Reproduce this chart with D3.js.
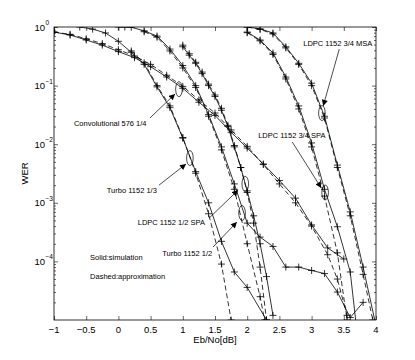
<!DOCTYPE html>
<html>
<head>
<meta charset="utf-8">
<script src="https://cdn.jsdelivr.net/npm/d3@7"></script>
<style>
  body { margin: 0; background: #fff; }
  text { font-family: "Liberation Sans", Arial, Helvetica, sans-serif; fill: #000; }
</style>
</head>
<body>
<div id="chart"></div>
<script>
// tick values / labels
var xTicks = [-1, -0.5, 0, 0.5, 1, 1.5, 2, 2.5, 3, 3.5, 4];
var xTickLabels = ["\u22121", "\u22120.5", "0", "0.5", "1", "1.5", "2", "2.5", "3", "3.5", "4"];
var yTicks = [1, 1e-1, 1e-2, 1e-3, 1e-4];
var yTickExp = ["0", "\u22121", "\u22122", "\u22123", "\u22124"];

// Convolutional 576 1/4
var convSimX = [-1, -0.75, -0.5, -0.25, 0, 0.25, 0.5, 0.75, 1, 1.25, 1.5, 1.75, 2, 2.25, 2.5, 2.75, 3, 3.25, 3.5];
var convSimY = [0.82, 0.73, 0.6, 0.49, 0.38, 0.3, 0.21, 0.14, 0.09, 0.052, 0.031, 0.016, 8.6e-3, 4.6e-3, 2.4e-3, 1.2e-3, 4.2e-4, 1.7e-4, 1.1e-4];
var convAppX = [-1, -0.75, -0.5, -0.25, 0, 0.25, 0.5, 0.75, 1, 1.25, 1.5, 1.75, 2, 2.25, 2.5, 2.75, 3, 3.25, 3.4, 3.55];
var convAppY = [0.82, 0.75, 0.63, 0.52, 0.41, 0.32, 0.23, 0.15, 0.097, 0.057, 0.034, 0.0175, 9.2e-3, 4.5e-3, 2.1e-3, 1e-3, 4e-4, 1.3e-4, 5e-5, 1.2e-5];

// Turbo 1152 1/3
var t13SimX = [-0.6, -0.4, -0.2, 0, 0.2, 0.4, 0.6, 0.8, 1, 1.2, 1.4, 1.6, 1.8, 2, 2.3];
var t13SimY = [1.0, 0.92, 0.79, 0.57, 0.37, 0.23, 0.095, 0.042, 0.0127, 3.4e-3, 1e-3, 2.2e-4, 6.6e-5, 3.6e-5, 1e-5];
var t13AppX = [0.2, 0.4, 0.6, 0.8, 1, 1.2, 1.4, 1.6, 1.75];
var t13AppY = [0.39, 0.245, 0.1, 0.045, 0.013, 3.2e-3, 6.5e-4, 9e-5, 1e-5];

// Turbo 1152 1/2
var t12SimX = [0, 0.1, 0.2, 0.4, 0.6, 0.8, 1, 1.2, 1.4, 1.6, 1.8, 2, 2.2, 2.4, 2.6, 2.8, 3, 3.2, 3.4, 3.6, 3.8];
var t12SimY = [1.0, 1.0, 0.99, 0.86, 0.7, 0.42, 0.22, 0.1, 0.032, 9e-3, 2.1e-3, 4.5e-4, 2.6e-4, 1.8e-4, 8e-5, 8e-5, 7e-5, 6.2e-5, 3e-5, 1.1e-5, 2e-5];
var t12AppX = [0.4, 0.6, 0.8, 1, 1.2, 1.4, 1.6, 1.8, 2, 2.2, 2.27];
var t12AppY = [0.83, 0.67, 0.39, 0.2, 0.093, 0.03, 8e-3, 1.7e-3, 2e-4, 2.5e-5, 1e-5];

// LDPC 1152 1/2 SPA
var l12SimX = [1, 1.1, 1.2, 1.3, 1.4, 1.5, 1.6, 1.7, 1.8, 1.9, 2, 2.1, 2.2, 2.3, 2.4];
var l12SimY = [0.46, 0.33, 0.24, 0.16, 0.1, 0.065, 0.038, 0.02, 9e-3, 4e-3, 1.6e-3, 6e-4, 2e-4, 5.5e-5, 1.2e-5];
var l12AppX = [1, 1.1, 1.2, 1.3, 1.4, 1.5, 1.6, 1.7, 1.8, 1.9, 2, 2.1, 2.2, 2.3];
var l12AppY = [0.49, 0.35, 0.25, 0.17, 0.106, 0.069, 0.041, 0.021, 9.5e-3, 4e-3, 1.5e-3, 4.5e-4, 8e-5, 1e-5];

// LDPC 1152 3/4 SPA
var l34sSimX = [2, 2.2, 2.4, 2.6, 2.8, 3, 3.2, 3.4, 3.6, 3.7];
var l34sSimY = [0.82, 0.6, 0.36, 0.14, 0.045, 0.0105, 1.7e-3, 3.9e-4, 6.6e-5, 7e-6];
var l34sAppX = [2, 2.2, 2.4, 2.6, 2.8, 3, 3.2, 3.4, 3.55];
var l34sAppY = [0.8, 0.58, 0.34, 0.13, 0.04, 9e-3, 1.3e-3, 1.4e-4, 1e-5];

// LDPC 1152 3/4 MSA
var l34mSimX = [2, 2.2, 2.4, 2.6, 2.8, 3, 3.2, 3.4, 3.6, 3.8, 4];
var l34mSimY = [1.0, 0.93, 0.79, 0.46, 0.24, 0.11, 0.03, 4.4e-3, 7e-4, 8e-5, 8e-6];
var l34mAppX = [2, 2.2, 2.4, 2.6, 2.8, 3, 3.2, 3.4, 3.6, 3.8, 3.95];
var l34mAppY = [1.0, 0.91, 0.76, 0.44, 0.23, 0.1, 0.028, 4e-3, 6e-4, 6e-5, 1e-5];

// annotations (data coordinates)
var labelText = ["Convolutional 576 1/4", "Turbo 1152 1/3", "LDPC 1152 1/2 SPA", "Turbo 1152 1/2", "LDPC 1152 3/4 SPA", "LDPC 1152 3/4 MSA"];
var labelAt = [[-0.69, 0.0205], [-0.18, 1.47e-3], [0.30, 4.2e-4], [0.68, 1.24e-4], [2.17, 0.0128], [2.87, 0.47]];
var arrowFrom = [[0.49, 0.028], [0.63, 2.0e-3], [1.41, 5.5e-4], [1.47, 1.76e-4], [2.70, 0.0109], [3.43, 0.42]];
var arrowTo = [[0.88, 0.072], [1.05, 4.6e-3], [1.86, 1.65e-3], [1.84, 4.7e-4], [3.15, 1.79e-3], [3.18, 0.045]];
var ellipseAt = [[0.94, 0.087], [1.11, 5.8e-3], [1.97, 2.1e-3], [1.92, 6.7e-4], [3.21, 1.5e-3], [3.16, 0.034]];
var noteText = ["Solid:simulation", "Dashed:approximation"];
var noteAt = [[-0.44, 1.06e-4], [-0.44, 5e-5]];

var margin = {top: 27, right: 39, bottom: 40, left: 54},
    width = 415 - margin.left - margin.right,
    height = 360 - margin.top - margin.bottom;

var svg = d3.select("#chart")
  .append("svg")
    .attr("width", width + margin.left + margin.right)
    .attr("height", height + margin.top + margin.bottom)
  .append("g")
    .attr("transform", "translate(" + margin.left + "," + margin.top + ")");

var x = d3.scaleLinear().domain([-1, 4]).range([0, width]);
var y = d3.scaleLog().domain([1e-5, 1]).range([height, 0]);

svg.append("defs").append("clipPath").attr("id", "plotclip")
  .append("rect").attr("width", width).attr("height", height);

svg.select("defs").append("marker")
    .attr("id", "arrowhead")
    .attr("viewBox", "0 0 10 10")
    .attr("refX", 10).attr("refY", 5)
    .attr("markerWidth", 7).attr("markerHeight", 6)
    .attr("markerUnits", "userSpaceOnUse")
    .attr("orient", "auto")
  .append("path").attr("d", "M0,0L10,5L0,10Z").attr("fill", "#000");

// minor ticks on log axis
var yMinor = [];
for (var e = -5; e < 0; e++) {
  for (var m = 2; m <= 9; m++) yMinor.push(m * Math.pow(10, e));
}

function tickAxis(axis, tr, size) {
  var g = svg.append("g").attr("transform", tr).call(axis.tickSize(size).tickFormat(""));
  g.select(".domain").remove();
  g.selectAll("line").attr("stroke", "#000").attr("stroke-width", 0.6);
}
tickAxis(d3.axisBottom(x).tickValues(xTicks), "translate(0," + height + ")", -4);
tickAxis(d3.axisTop(x).tickValues(xTicks), "translate(0,0)", -4);
tickAxis(d3.axisLeft(y).tickValues(yTicks), "translate(0,0)", -4);
tickAxis(d3.axisRight(y).tickValues(yTicks), "translate(" + width + ",0)", -4);
tickAxis(d3.axisLeft(y).tickValues(yMinor), "translate(0,0)", -2);
tickAxis(d3.axisRight(y).tickValues(yMinor), "translate(" + width + ",0)", -2);

svg.append("rect")
  .attr("width", width).attr("height", height)
  .attr("fill", "none").attr("stroke", "#000").attr("stroke-width", 0.8);

// tick labels
xTicks.forEach(function (v, i) {
  svg.append("text")
    .attr("x", x(v)).attr("y", height + 13)
    .attr("text-anchor", "middle")
    .style("font-size", "9.5px")
    .text(xTickLabels[i]);
});
yTicks.forEach(function (v, i) {
  svg.append("text")
    .attr("x", -9).attr("y", y(v) + 3.5)
    .attr("text-anchor", "end")
    .style("font-size", "9.5px")
    .text("10");
  svg.append("text")
    .attr("x", -8.5).attr("y", y(v) - 2)
    .style("font-size", "6.5px")
    .text(yTickExp[i]);
});

svg.append("text")
  .attr("x", width / 2).attr("y", height + 23)
  .attr("text-anchor", "middle")
  .style("font-size", "9.5px")
  .text("Eb/No[dB]");
svg.append("text")
  .attr("transform", "translate(-26," + height / 2 + ") rotate(-90)")
  .attr("text-anchor", "middle")
  .style("font-size", "9.5px")
  .text("WER");

// curves
var series = [
  {xs: convSimX, ys: convSimY, dash: false}, {xs: convAppX, ys: convAppY, dash: true},
  {xs: t13SimX, ys: t13SimY, dash: false}, {xs: t13AppX, ys: t13AppY, dash: true},
  {xs: t12SimX, ys: t12SimY, dash: false}, {xs: t12AppX, ys: t12AppY, dash: true},
  {xs: l12SimX, ys: l12SimY, dash: false}, {xs: l12AppX, ys: l12AppY, dash: true},
  {xs: l34sSimX, ys: l34sSimY, dash: false}, {xs: l34sAppX, ys: l34sAppY, dash: true},
  {xs: l34mSimX, ys: l34mSimY, dash: false}, {xs: l34mAppX, ys: l34mAppY, dash: true}
];

var line = d3.line()
  .x(function (d) { return x(d[0]); })
  .y(function (d) { return y(d[1]); });

var plot = svg.append("g").attr("clip-path", "url(#plotclip)");

series.forEach(function (s) {
  var pts = s.xs.map(function (v, i) { return [v, s.ys[i]]; });
  plot.append("path")
    .attr("fill", "none")
    .attr("stroke", "#000")
    .attr("stroke-width", 0.8)
    .attr("stroke-dasharray", s.dash ? "5,3" : null)
    .attr("d", line(pts));
  plot.selectAll(null)
    .data(pts)
    .enter().append("path")
    .attr("transform", function (d) { return "translate(" + x(d[0]) + "," + y(d[1]) + ")"; })
    .attr("d", "M-3.5,0H3.5M0,-3.5V3.5")
    .attr("stroke", "#000")
    .attr("stroke-width", 0.8);
});

// annotations
ellipseAt.forEach(function (p) {
  svg.append("ellipse")
    .attr("cx", x(p[0])).attr("cy", y(p[1]))
    .attr("rx", 3.3).attr("ry", 7.5)
    .attr("fill", "none").attr("stroke", "#000").attr("stroke-width", 0.7);
});
arrowFrom.forEach(function (p, i) {
  svg.append("line")
    .attr("x1", x(p[0])).attr("y1", y(p[1]))
    .attr("x2", x(arrowTo[i][0])).attr("y2", y(arrowTo[i][1]))
    .attr("stroke", "#000").attr("stroke-width", 0.7)
    .attr("marker-end", "url(#arrowhead)");
});
labelText.forEach(function (t, i) {
  svg.append("text")
    .attr("x", x(labelAt[i][0])).attr("y", y(labelAt[i][1]))
    .style("font-size", "7.5px")
    .text(t);
});
noteText.forEach(function (t, i) {
  svg.append("text")
    .attr("x", x(noteAt[i][0])).attr("y", y(noteAt[i][1]))
    .style("font-size", "7.5px")
    .text(t);
});
</script>
</body>
</html>
